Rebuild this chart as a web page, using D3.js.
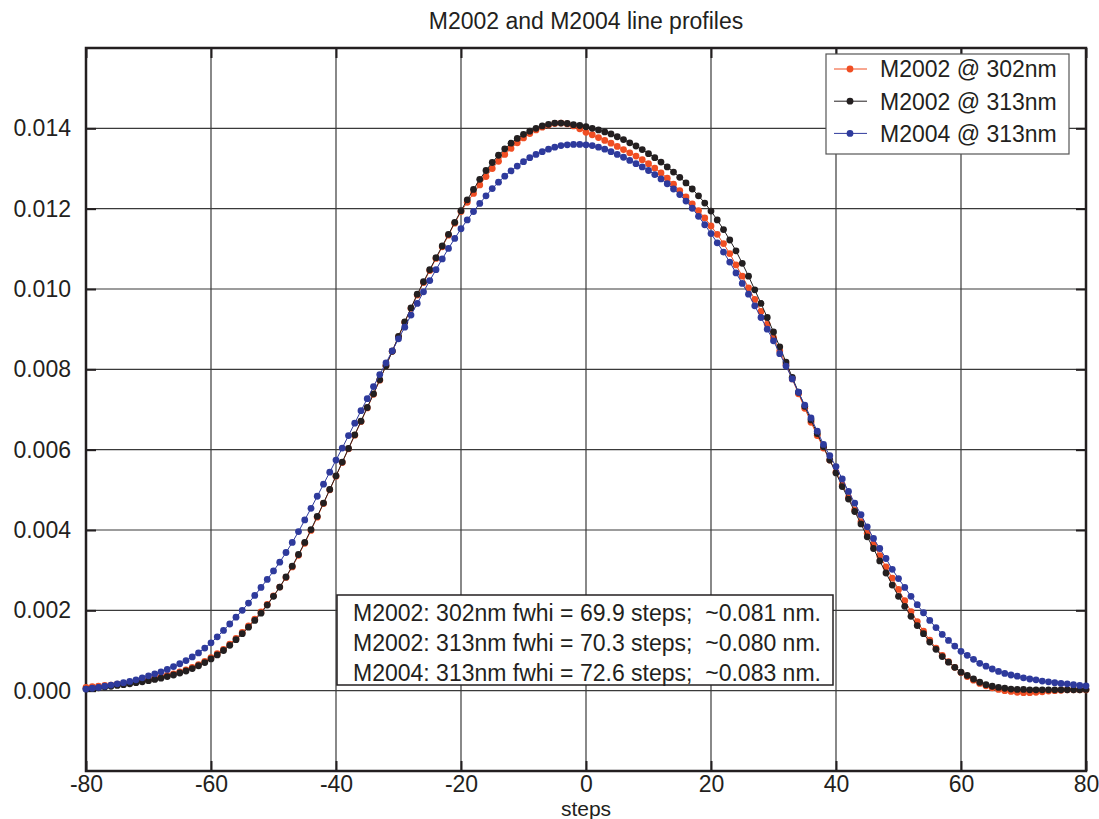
<!DOCTYPE html>
<html>
<head>
<meta charset="utf-8">
<script src="https://cdn.jsdelivr.net/npm/d3@7"></script>
<style>
  body { margin: 0; background: #fff; }
  svg { font-family: "Liberation Sans", Arial, sans-serif; }
</style>
</head>
<body>
<div id="chart"></div>
<script>
// step positions (one sample per step, -80 .. 80)
const steps = d3.range(-80, 81);

// M2002 @ 302nm
const m2002_302 = [
  0.00008, 0.00010, 0.00011, 0.00013, 0.00014, 0.00016, 0.00018, 0.00020, 0.00023, 0.00025,
  0.00028, 0.00031, 0.00034, 0.00038, 0.00042, 0.00047, 0.00052, 0.00058, 0.00065, 0.00073,
  0.00082, 0.00092, 0.00103, 0.00116, 0.00130, 0.00145, 0.00161, 0.00178, 0.00196, 0.00215,
  0.00236, 0.00258, 0.00282, 0.00308, 0.00337, 0.00367, 0.00399, 0.00432, 0.00466, 0.00500,
  0.00534, 0.00568, 0.00602, 0.00636, 0.00670, 0.00704, 0.00738, 0.00773, 0.00809, 0.00845,
  0.00881, 0.00917, 0.00952, 0.00985, 0.01016, 0.01046, 0.01076, 0.01105, 0.01134, 0.01164,
  0.01193, 0.01216, 0.01238, 0.01259, 0.01280, 0.01300, 0.01318, 0.01335, 0.01350, 0.01364,
  0.01376, 0.01387, 0.01396, 0.01403, 0.01408, 0.01412, 0.01413, 0.01411, 0.01406, 0.01399,
  0.01390, 0.01384, 0.01377, 0.01370, 0.01363, 0.01355, 0.01347, 0.01339, 0.01331, 0.01322,
  0.01312, 0.01301, 0.01289, 0.01276, 0.01261, 0.01245, 0.01229, 0.01212, 0.01195, 0.01177,
  0.01157, 0.01136, 0.01113, 0.01088, 0.01060, 0.01032, 0.01003, 0.00974, 0.00944, 0.00912,
  0.00879, 0.00846, 0.00812, 0.00776, 0.00739, 0.00703, 0.00668, 0.00635, 0.00604, 0.00574,
  0.00544, 0.00512, 0.00481, 0.00450, 0.00421, 0.00392, 0.00364, 0.00336, 0.00308, 0.00280,
  0.00252, 0.00224, 0.00197, 0.00172, 0.00148, 0.00126, 0.00106, 0.00088, 0.00072, 0.00058,
  0.00045, 0.00035, 0.00026, 0.00018, 0.00012, 0.00007, 0.00003, 0.00000, -0.00002, -0.00004,
  -0.00005, -0.00005, -0.00004, -0.00003, -0.00001, 0.00000, 0.00001, 0.00002, 0.00002, 0.00002,
  0.00002
];

// M2002 @ 313nm
const m2002_313 = [
  0.00004, 0.00005, 0.00007, 0.00009, 0.00011, 0.00013, 0.00015, 0.00017, 0.00020, 0.00022,
  0.00025, 0.00028, 0.00031, 0.00035, 0.00039, 0.00044, 0.00049, 0.00055, 0.00062, 0.00070,
  0.00079, 0.00089, 0.00100, 0.00113, 0.00127, 0.00142, 0.00158, 0.00175, 0.00193, 0.00213,
  0.00235, 0.00258, 0.00283, 0.00310, 0.00339, 0.00369, 0.00401, 0.00434, 0.00467, 0.00501,
  0.00535, 0.00569, 0.00603, 0.00637, 0.00671, 0.00705, 0.00739, 0.00774, 0.00809, 0.00845,
  0.00882, 0.00918, 0.00953, 0.00987, 0.01018, 0.01048, 0.01078, 0.01107, 0.01136, 0.01166,
  0.01195, 0.01222, 0.01248, 0.01273, 0.01295, 0.01315, 0.01333, 0.01349, 0.01363, 0.01375,
  0.01385, 0.01393, 0.01400, 0.01406, 0.01410, 0.01413, 0.01413, 0.01412, 0.01409, 0.01407,
  0.01404, 0.01400, 0.01396, 0.01391, 0.01386, 0.01379, 0.01372, 0.01364, 0.01356, 0.01347,
  0.01337, 0.01327, 0.01316, 0.01304, 0.01291, 0.01278, 0.01264, 0.01249, 0.01232, 0.01214,
  0.01194, 0.01172, 0.01148, 0.01122, 0.01095, 0.01064, 0.01032, 0.00998, 0.00964, 0.00929,
  0.00893, 0.00856, 0.00818, 0.00780, 0.00743, 0.00708, 0.00674, 0.00640, 0.00607, 0.00574,
  0.00542, 0.00508, 0.00477, 0.00446, 0.00415, 0.00383, 0.00354, 0.00323, 0.00293, 0.00263,
  0.00235, 0.00210, 0.00185, 0.00162, 0.00142, 0.00121, 0.00103, 0.00085, 0.00071, 0.00058,
  0.00046, 0.00038, 0.00029, 0.00021, 0.00015, 0.00011, 0.00008, 0.00006, 0.00004, 0.00003,
  0.00003, 0.00002, 0.00002, 0.00002, 0.00002, 0.00002, 0.00002, 0.00002, 0.00002, 0.00002,
  0.00003
];

// M2004 @ 313nm
const m2004_313 = [
  0.00004, 0.00006, 0.00008, 0.00011, 0.00014, 0.00017, 0.00020, 0.00023, 0.00027, 0.00032,
  0.00037, 0.00042, 0.00047, 0.00053, 0.00060, 0.00067, 0.00075, 0.00084, 0.00094, 0.00106,
  0.00119, 0.00134, 0.00150, 0.00166, 0.00183, 0.00200, 0.00218, 0.00237, 0.00257, 0.00277,
  0.00298, 0.00320, 0.00344, 0.00369, 0.00396, 0.00425, 0.00454, 0.00484, 0.00514, 0.00544,
  0.00574, 0.00604, 0.00635, 0.00666, 0.00697, 0.00727, 0.00757, 0.00787, 0.00816, 0.00846,
  0.00876, 0.00905, 0.00935, 0.00964, 0.00993, 0.01021, 0.01048, 0.01075, 0.01101, 0.01126,
  0.01150, 0.01172, 0.01193, 0.01213, 0.01232, 0.01250, 0.01266, 0.01281, 0.01294, 0.01306,
  0.01317, 0.01327, 0.01335, 0.01342, 0.01348, 0.01353, 0.01357, 0.01359, 0.01360, 0.01360,
  0.01359, 0.01357, 0.01353, 0.01348, 0.01342, 0.01335, 0.01328, 0.01320, 0.01312, 0.01304,
  0.01295, 0.01285, 0.01274, 0.01262, 0.01249, 0.01235, 0.01219, 0.01201, 0.01181, 0.01160,
  0.01138, 0.01115, 0.01092, 0.01067, 0.01040, 0.01014, 0.00987, 0.00958, 0.00929, 0.00900,
  0.00871, 0.00839, 0.00808, 0.00776, 0.00743, 0.00711, 0.00679, 0.00646, 0.00613, 0.00585,
  0.00558, 0.00527, 0.00496, 0.00467, 0.00438, 0.00408, 0.00379, 0.00354, 0.00329, 0.00302,
  0.00279, 0.00257, 0.00235, 0.00214, 0.00194, 0.00175, 0.00157, 0.00140, 0.00125, 0.00111,
  0.00098, 0.00088, 0.00078, 0.00068, 0.00061, 0.00054, 0.00048, 0.00043, 0.00039, 0.00036,
  0.00032, 0.00029, 0.00027, 0.00024, 0.00022, 0.00020, 0.00018, 0.00017, 0.00015, 0.00013,
  0.00012
];

const seriesNames = ['M2002 @ 302nm', 'M2002 @ 313nm', 'M2004 @ 313nm'];
const seriesColors = ['#f04e23', '#231f20', '#2e3a9c'];
const xTicks = [-80, -60, -40, -20, 0, 20, 40, 60, 80];
const yTicks = [0, 0.002, 0.004, 0.006, 0.008, 0.010, 0.012, 0.014];
const notes = [
  'M2002: 302nm fwhi = 69.9 steps;  ~0.081 nm.',
  'M2002: 313nm fwhi = 70.3 steps;  ~0.080 nm.',
  'M2004: 313nm fwhi = 72.6 steps;  ~0.083 nm.'
];

const width = 1099, height = 819;
const margin = { top: 48, right: 13, bottom: 48, left: 86 };
const ink = '#231f20';

const svg = d3.select('#chart').append('svg')
  .attr('width', width)
  .attr('height', height);

const x = d3.scaleLinear().domain([-80, 80]).range([margin.left, width - margin.right]);
const y = d3.scaleLinear().domain([-0.002, 0.016]).range([height - margin.bottom, margin.top]);

// grid
const grid = svg.append('g').attr('stroke', '#3a3a3a').attr('stroke-width', 1.2);
xTicks.slice(1, -1).forEach(t => {
  grid.append('line')
    .attr('x1', x(t)).attr('x2', x(t))
    .attr('y1', y.range()[1]).attr('y2', y.range()[0]);
});
yTicks.forEach(t => {
  grid.append('line')
    .attr('x1', x.range()[0]).attr('x2', x.range()[1])
    .attr('y1', y(t)).attr('y2', y(t));
});

// axes with inward ticks on all four sides
function styleAxis(g) {
  g.select('.domain').remove();
  g.selectAll('.tick line').attr('stroke', ink).attr('stroke-width', 2);
  g.selectAll('.tick text')
    .attr('fill', ink)
    .style('font-size', '23px')
    .style('font-family', '"Liberation Sans", Arial, sans-serif');
}

svg.append('g')
  .attr('transform', `translate(0,${y.range()[0]})`)
  .call(d3.axisBottom(x).tickValues(xTicks).tickSizeInner(-10).tickSizeOuter(0).tickPadding(5)
    .tickFormat(d => String(d)))
  .call(styleAxis);

svg.append('g')
  .attr('transform', `translate(0,${y.range()[1]})`)
  .call(d3.axisTop(x).tickValues(xTicks).tickSizeInner(-10).tickSizeOuter(0).tickFormat(''))
  .call(styleAxis);

svg.append('g')
  .attr('transform', `translate(${x.range()[0]},0)`)
  .call(d3.axisLeft(y).tickValues(yTicks).tickSizeInner(-10).tickSizeOuter(0).tickPadding(15)
    .tickFormat(d3.format('.3f')))
  .call(styleAxis);

svg.append('g')
  .attr('transform', `translate(${x.range()[1]},0)`)
  .call(d3.axisRight(y).tickValues(yTicks).tickSizeInner(-10).tickSizeOuter(0).tickFormat(''))
  .call(styleAxis);

// frame
svg.append('rect')
  .attr('x', x.range()[0]).attr('y', y.range()[1])
  .attr('width', x.range()[1] - x.range()[0])
  .attr('height', y.range()[0] - y.range()[1])
  .attr('fill', 'none')
  .attr('stroke', ink)
  .attr('stroke-width', 2.5);

// series
const allSeries = [m2002_302, m2002_313, m2004_313];
const line = d3.line().x((d, i) => x(steps[i])).y(d => y(d));

allSeries.forEach((values, k) => {
  const g = svg.append('g');
  g.append('path')
    .datum(values)
    .attr('fill', 'none')
    .attr('stroke', seriesColors[k])
    .attr('stroke-width', 1)
    .attr('d', line);
  g.selectAll('circle')
    .data(values)
    .enter()
    .append('circle')
    .attr('cx', (d, i) => x(steps[i]))
    .attr('cy', d => y(d))
    .attr('r', 3.4)
    .attr('fill', seriesColors[k]);
});

// legend
const legend = svg.append('g').attr('transform', 'translate(826,54)');
legend.append('rect')
  .attr('width', 243).attr('height', 100)
  .attr('fill', '#fff')
  .attr('stroke', '#555')
  .attr('stroke-width', 1.2);

seriesNames.forEach((name, i) => {
  const cy = 15 + i * 32.2;
  legend.append('line')
    .attr('x1', 8).attr('x2', 41)
    .attr('y1', cy).attr('y2', cy)
    .attr('stroke', seriesColors[i])
    .attr('stroke-width', 1);
  legend.append('circle')
    .attr('cx', 24).attr('cy', cy).attr('r', 3.4)
    .attr('fill', seriesColors[i]);
  legend.append('text')
    .attr('x', 54).attr('y', cy + 8.3)
    .attr('fill', ink)
    .style('font-size', '23px')
    .text(name);
});

// fwhm annotation box
const note = svg.append('g').attr('transform', 'translate(337,595)');
note.append('rect')
  .attr('width', 496).attr('height', 90)
  .attr('fill', '#fff')
  .attr('stroke', ink)
  .attr('stroke-width', 1.5);

notes.forEach((t, i) => {
  note.append('text')
    .attr('x', 16).attr('y', 25.5 + i * 30)
    .attr('fill', ink)
    .attr('xml:space', 'preserve')
    .style('white-space', 'pre')
    .style('font-size', '23px')
    .text(t);
});

// title and axis label
svg.append('text')
  .attr('x', (x.range()[0] + x.range()[1]) / 2)
  .attr('y', 29)
  .attr('text-anchor', 'middle')
  .attr('fill', ink)
  .style('font-size', '23px')
  .text('M2002 and M2004 line profiles');

svg.append('text')
  .attr('x', (x.range()[0] + x.range()[1]) / 2)
  .attr('y', 816)
  .attr('text-anchor', 'middle')
  .attr('fill', ink)
  .style('font-size', '21px')
  .text('steps');
</script>
</body>
</html>
